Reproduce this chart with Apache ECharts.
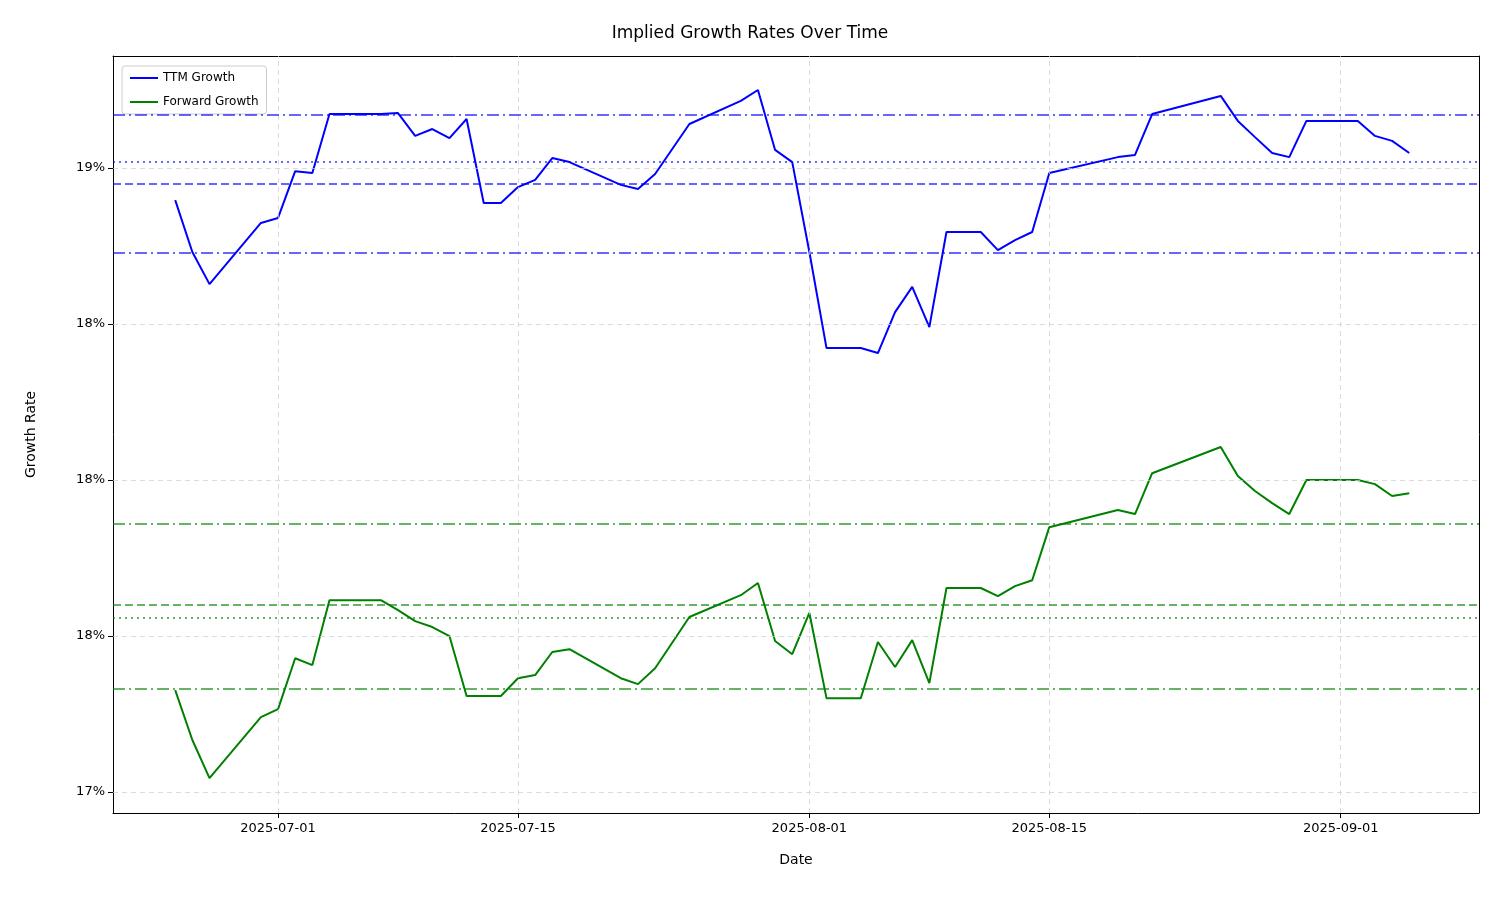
<!DOCTYPE html>
<html><head><meta charset="utf-8">
<script src="https://cdn.jsdelivr.net/npm/echarts@6/dist/echarts.min.js"></script>
<style>html,body{margin:0;padding:0;background:#fff}#c{width:1500px;height:900px}</style>
</head><body><div id="c"></div>
<script>
const dates = ['2025-06-25','2025-06-26','2025-06-27','2025-06-30','2025-07-01','2025-07-02','2025-07-03','2025-07-04','2025-07-07','2025-07-08','2025-07-09','2025-07-10','2025-07-11','2025-07-12','2025-07-13','2025-07-14','2025-07-15','2025-07-16','2025-07-17','2025-07-18','2025-07-21','2025-07-22','2025-07-23','2025-07-25','2025-07-28','2025-07-29','2025-07-30','2025-07-31','2025-08-01','2025-08-02','2025-08-04','2025-08-05','2025-08-06','2025-08-07','2025-08-08','2025-08-09','2025-08-11','2025-08-12','2025-08-13','2025-08-14','2025-08-15','2025-08-19','2025-08-20','2025-08-21','2025-08-25','2025-08-26','2025-08-27','2025-08-28','2025-08-29','2025-08-30','2025-09-02','2025-09-03','2025-09-04','2025-09-05'];
const ttmGrowth = [18.897,18.731,18.628,18.824,18.840,18.990,18.984,19.173,19.173,19.176,19.103,19.125,19.096,19.157,18.888,18.888,18.939,18.962,19.032,19.019,18.946,18.933,18.981,19.141,19.215,19.250,19.058,19.019,18.731,18.423,18.423,18.407,18.538,18.619,18.490,18.795,18.795,18.737,18.769,18.795,18.984,19.035,19.042,19.173,19.231,19.151,19.099,19.048,19.035,19.151,19.151,19.103,19.087,19.048];
const fwdGrowth = [17.327,17.167,17.045,17.240,17.266,17.429,17.407,17.615,17.615,17.583,17.548,17.529,17.500,17.308,17.308,17.308,17.365,17.375,17.449,17.458,17.365,17.346,17.397,17.561,17.631,17.670,17.484,17.442,17.574,17.301,17.301,17.481,17.401,17.487,17.349,17.654,17.654,17.628,17.660,17.679,17.849,17.904,17.891,18.022,18.106,18.013,17.965,17.926,17.891,18.000,18.000,17.987,17.949,17.958];
const ttmRefs = {dashdot:[19.173,18.731], dashed:[18.952], dotted:[19.016]};
const fwdRefs = {dashdot:[17.865,17.327], dashed:[17.596], dotted:[17.564]};
const yTicks = [17.0,17.5,18.0,18.5,19.0];
const yTickLabels = ['17%','18%','18%','18%','19%'];
const xTicks = ['2025-07-01','2025-07-15','2025-08-01','2025-08-15','2025-09-01'];

const toT = s => Date.parse(s+'T00:00:00Z');
const fmtT = v => new Date(v).toISOString().slice(0,10);
const xMin = toT('2025-06-21') + 0.37*86400000, xMax = toT('2025-09-09') + 0.07*86400000;
const yMin = 16.933, yMax = 19.359;

function refLines(refs, color){
  const out=[];
  refs.dashdot.forEach(v=>out.push({yAxis:v,lineStyle:{color,type:[12,4,2,4],width:2,opacity:0.6}}));
  refs.dashed.forEach(v=>out.push({yAxis:v,lineStyle:{color,type:[8,4],width:2,opacity:0.6}}));
  refs.dotted.forEach(v=>out.push({yAxis:v,lineStyle:{color,type:[2,4],width:2,opacity:0.6}}));
  return out;
}
const gridLines = yTicks.map(v=>({yAxis:v})).concat(xTicks.map(d=>({xAxis:toT(d)})));
const xTickT = xTicks.map(toT);

const chart = echarts.init(document.getElementById('c'));
chart.setOption({
  animation:false,
  title:{text:'Implied Growth Rates Over Time',left:'center',top:20,textStyle:{fontFamily:'DejaVu Sans',fontSize:17,fontWeight:'normal',color:'#000'}},
  legend:{left:122,top:66,orient:'vertical',itemWidth:28,itemHeight:2,itemGap:12,backgroundColor:'#fff',borderColor:'#ccc',borderWidth:1,borderRadius:3,padding:[6,8],
    textStyle:{fontFamily:'DejaVu Sans',fontSize:12,color:'#000'},data:[{name:'TTM Growth',icon:'rect'},{name:'Forward Growth',icon:'rect'}]},
  grid:{left:113,right:21,top:56,bottom:87},
  xAxis:[{type:'value',min:xMin,max:xMax,name:'Date',nameLocation:'middle',nameGap:40,nameTextStyle:{fontFamily:'DejaVu Sans',fontSize:14,color:'#000'},
    axisLine:{lineStyle:{color:'#000'}},splitLine:{show:false},
    axisTick:{customValues:xTickT,length:5,lineStyle:{color:'#000'}},
    axisLabel:{customValues:xTickT,formatter:v=>fmtT(v),fontFamily:'DejaVu Sans',fontSize:13,color:'#000',margin:9}},
    {type:'value',position:'top',min:xMin,max:xMax,axisLine:{lineStyle:{color:'#000'}},axisTick:{show:false},axisLabel:{show:false},splitLine:{show:false}}],
  yAxis:[{type:'value',min:yMin,max:yMax,name:'Growth Rate',nameLocation:'middle',nameGap:75,nameTextStyle:{fontFamily:'DejaVu Sans',fontSize:14,color:'#000'},
    axisLine:{show:true,lineStyle:{color:'#000'}},splitLine:{show:false},
    axisTick:{show:true,customValues:yTicks,length:5,lineStyle:{color:'#000'}},
    axisLabel:{customValues:yTicks,formatter:v=>yTickLabels[yTicks.findIndex(t=>Math.abs(t-v)<1e-6)]||'',fontFamily:'DejaVu Sans',fontSize:13,color:'#000'}},
    {type:'value',position:'right',min:yMin,max:yMax,axisLine:{show:true,lineStyle:{color:'#000'}},axisTick:{show:false},axisLabel:{show:false},splitLine:{show:false}}],
  series:[
    {name:'grid',type:'line',data:[],markLine:{silent:true,symbol:'none',label:{show:false},lineStyle:{color:'#ccc',type:[5,4],width:1,opacity:0.7},data:gridLines}},
    {name:'TTM Growth',type:'line',color:'#0000ff',showSymbol:false,lineStyle:{width:2,color:'#0000ff'},data:dates.map((d,i)=>[toT(d),ttmGrowth[i]]),
      markLine:{silent:true,symbol:'none',label:{show:false},data:refLines(ttmRefs,'#0000ff')}},
    {name:'Forward Growth',type:'line',color:'#008000',showSymbol:false,lineStyle:{width:2,color:'#008000'},data:dates.map((d,i)=>[toT(d),fwdGrowth[i]]),
      markLine:{silent:true,symbol:'none',label:{show:false},data:refLines(fwdRefs,'#008000')}}
  ]
});
</script></body></html>
